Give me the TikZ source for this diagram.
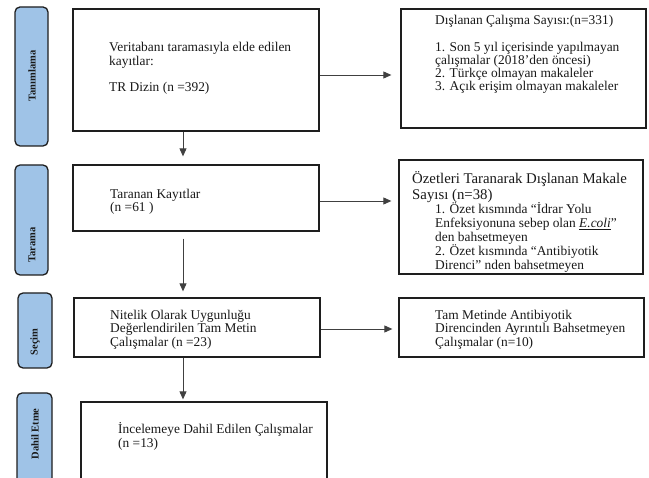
\documentclass[tikz,border=0pt]{standalone}
\usepackage{fontspec}
\setmainfont{Liberation Serif}
\usetikzlibrary{arrows.meta,calc}
\definecolor{labblue}{HTML}{9FC3E7}
\definecolor{edge}{HTML}{1E1E1E}
\begin{document}
\begin{tikzpicture}[x=1pt,y=-1pt,
  box/.style={draw=edge, line width=1.3pt, inner sep=0pt},
  lab/.style={draw=edge, fill=labblue, line width=1.3pt, rounded corners=5pt, inner sep=0pt},
  txt/.style={inner sep=0pt, anchor=north west, align=left, text=black!90, font=\fontsize{13.4}{13}\selectfont},
  labtxt/.style={rotate=90, inner sep=0pt, text=black!90, font=\bfseries\fontsize{10.5}{12}\selectfont},
  arr/.style={draw=black!75, line width=0.9pt, -{Triangle[length=8pt,width=7pt]}}]
\useasboundingbox (0,0) rectangle (649,478);
\clip (0,0) rectangle (649,478);
\fill[white] (0,0) rectangle (649,478);

% phase labels
\node[lab, minimum width=33, minimum height=139] (L1) at (31.5,76.5) {};
\node[lab, minimum width=33, minimum height=110] (L2) at (31.5,220) {};
\node[lab, minimum width=34, minimum height=75] (L3) at (35,330.5) {};
\node[lab, minimum width=35, minimum height=117] (L4) at (34.5,451.5) {};
\node[labtxt] (LT1) at (32,76) {Tanımlama};
\node[labtxt] (LT2) at (32,245) {Tarama};
\node[labtxt] (LT3) at (35,342) {Seçim};
\node[labtxt] (LT4) at (35,434) {Dahil Etme};

% main boxes
\node[box, minimum width=246, minimum height=122] (b1) at (196,70) {};
\node[box, minimum width=246, minimum height=66] (b2) at (196,198) {};
\node[box, minimum width=246, minimum height=59] (b3) at (197,327.5) {};
\node[box, minimum width=246, minimum height=108] (b4) at (204,456) {};

% right boxes
\node[box, minimum width=245, minimum height=119] (r1) at (523.5,68.5) {};
\node[box, minimum width=244, minimum height=114] (r2) at (521,217) {};
\node[box, minimum width=245, minimum height=59] (r3) at (521.5,327.5) {};

% texts
\node[txt] (t1) at (109,42) {\strut Veritabanı taramasıyla elde edilen\\ kayıtlar:\\[13pt] TR Dizin (n =392)};
\node[txt, font=\fontsize{13.4}{12}\selectfont] (t2) at (110,188.6) {\strut Taranan Kayıtlar\\ (n =61 )};
\node[txt, font=\fontsize{13.4}{13.5}\selectfont] (t3) at (110,309.5) {\strut Nitelik Olarak Uygunluğu\\ Değerlendirilen Tam Metin\\ Çalışmalar (n =23)};
\node[txt, font=\fontsize{13.4}{13.5}\selectfont] (t4) at (118,422.5) {\strut İncelemeye Dahil Edilen Çalışmalar\\ (n =13)};

\node[txt] (s1) at (435,15) {\strut Dışlanan Çalışma Sayısı:(n=331)\\[13pt] 1. Son 5 yıl içerisinde yapılmayan\\ çalışmalar (2018’den öncesi)\\ 2. Türkçe olmayan makaleler\\ 3. Açık erişim olmayan makaleler};
\node[txt, font=\fontsize{14.8}{13.5}\selectfont] (s2a) at (412,171.5) {\strut Özetleri Taranarak Dışlanan Makale\\ Sayısı (n=38)};
\node[txt, font=\fontsize{13.4}{11.8}\selectfont] (s2b) at (435,202.7) {\strut 1. Özet kısmında “İdrar Yolu\\ Enfeksiyonuna sebep olan \underline{\textit{E.coli}}”\\ den bahsetmeyen\\ 2. Özet kısmında “Antibiyotik\\ Direnci” nden bahsetmeyen};
\node[txt, font=\fontsize{13.4}{13.5}\selectfont] (s3) at (435,309.5) {\strut Tam Metinde Antibiyotik\\ Direncinden Ayrıntılı Bahsetmeyen\\ Çalışmalar (n=10)};

% connectors
\coordinate (ax) at (183,0);
\draw[arr, shorten >=8pt] (b1.south -| ax) -- (b2.north -| ax);
\draw[arr, shorten <=7pt, shorten >=6pt] (b2.south -| ax) -- (b3.north -| ax);
\draw[arr, shorten >=2pt] (b3.south -| ax) -- (b4.north -| ax);
\coordinate (h1) at (0,75);
\coordinate (h2) at (0,201);
\coordinate (h3) at (0,329);
\draw[arr, shorten >=9pt] (b1.east |- h1) -- (r1.west |- h1);
\draw[arr, shorten >=7pt] (b2.east |- h2) -- (r2.west |- h2);
\draw[arr, shorten >=6pt] (b3.east |- h3) -- (r3.west |- h3);
\end{tikzpicture}
\end{document}
